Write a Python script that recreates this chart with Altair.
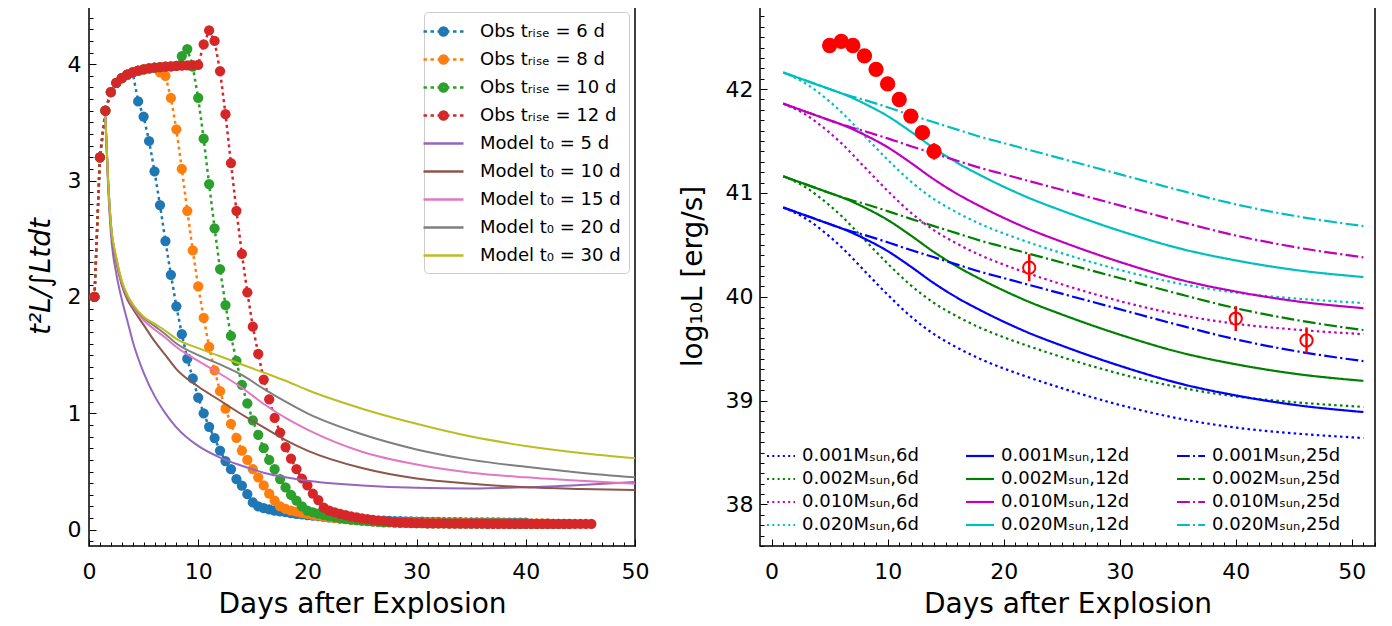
import altair as alt
import numpy as np
import pandas as pd

# ---------------- left panel data ----------------
DAYS = [0.5, 1.0, 1.5, 2.0, 2.5, 3.0, 3.5, 4.0, 4.5, 5.0, 5.5, 6.0, 6.5, 7.0, 7.5, 8.0, 8.5, 9.0, 9.5, 10.0,
        10.5, 11.0, 11.5, 12.0, 12.5, 13.0, 13.5, 14.0, 14.5, 15.0, 15.5, 16.0, 16.5, 17.0, 17.5, 18.0, 18.5, 19.0, 19.5, 20.0,
        20.5, 21.0, 21.5, 22.0, 22.5, 23.0, 23.5, 24.0, 24.5, 25.0, 25.5, 26.0, 26.5, 27.0, 27.5, 28.0, 28.5, 29.0, 29.5, 30.0,
        30.5, 31.0, 31.5, 32.0, 32.5, 33.0, 33.5, 34.0, 34.5, 35.0, 35.5, 36.0, 36.5, 37.0, 37.5, 38.0, 38.5, 39.0, 39.5, 40.0,
        40.5, 41.0, 41.5, 42.0, 42.5, 43.0, 43.5, 44.0, 44.5, 45.0, 45.5, 46.0]

RISE = [2.00, 3.20, 3.60, 3.76, 3.84, 3.88, 3.91, 3.93, 3.945, 3.955,
        3.963, 3.970, 3.975, 3.979, 3.982, 3.985, 3.988, 3.990, 3.992, 3.994]

OBS_T6 = RISE[:8] + [3.68, 3.55, 3.34, 3.08, 2.79, 2.48, 2.19, 1.92, 1.68, 1.47, 1.30, 1.135,
                     1.00, 0.884, 0.787, 0.68, 0.59, 0.52, 0.435, 0.378, 0.306, 0.234, 0.20, 0.185, 0.175, 0.165, 0.157, 0.15, 0.143, 0.137, 0.131, 0.126,
                     0.121, 0.116, 0.111, 0.106, 0.102, 0.098, 0.094, 0.091, 0.088, 0.085, 0.083, 0.081, 0.079, 0.077, 0.076, 0.074, 0.073, 0.072, 0.071, 0.070,
                     0.069, 0.068, 0.068, 0.067, 0.066, 0.066, 0.065, 0.065, 0.064, 0.064, 0.063, 0.063, 0.062, 0.062, 0.062, 0.061, 0.061, 0.061, 0.060, 0.060]
OBS_T8 = RISE[:12] + [3.93, 3.90, 3.71, 3.44, 3.10, 2.74, 2.40, 2.09,
                      1.82, 1.57, 1.37, 1.19, 1.04, 0.91, 0.79, 0.68, 0.60, 0.52, 0.45, 0.38, 0.31, 0.25, 0.20, 0.18, 0.165, 0.155, 0.145, 0.135,
                      0.128, 0.120, 0.113, 0.107, 0.100, 0.095, 0.090, 0.086, 0.082, 0.078, 0.075, 0.073, 0.071, 0.069, 0.067, 0.066, 0.065, 0.064, 0.063, 0.062,
                      0.061, 0.061, 0.060, 0.060, 0.059, 0.059, 0.058, 0.058, 0.058, 0.057, 0.057, 0.057, 0.056, 0.056, 0.056, 0.056, 0.055, 0.055, 0.055, 0.055,
                      0.055, 0.054, 0.054, 0.054]
OBS_T10 = RISE[:16] + [4.07, 4.13, 3.98, 3.71,
                       3.36, 2.97, 2.59, 2.24, 1.93, 1.665, 1.45, 1.245, 1.085, 0.94, 0.815, 0.70, 0.60, 0.52, 0.435, 0.363, 0.30, 0.25, 0.20, 0.165,
                       0.150, 0.138, 0.127, 0.117, 0.108, 0.100, 0.093, 0.087, 0.082, 0.077, 0.073, 0.070, 0.067, 0.064, 0.062, 0.060, 0.059, 0.058, 0.057, 0.056,
                       0.056, 0.055, 0.055, 0.055, 0.054, 0.054, 0.054, 0.053, 0.053, 0.053, 0.053, 0.052, 0.052, 0.052, 0.052, 0.052, 0.051, 0.051, 0.051, 0.051,
                       0.051, 0.051, 0.050, 0.050, 0.050, 0.050, 0.050, 0.050]
OBS_T12 = RISE[:20] + [4.17, 4.29, 4.20, 3.94, 3.57, 3.15, 2.74, 2.37, 2.04, 1.745, 1.51, 1.29, 1.12, 0.96, 0.835, 0.71, 0.61, 0.52, 0.44, 0.38,
                       0.31, 0.255, 0.19, 0.165, 0.150, 0.137, 0.125, 0.115, 0.106, 0.098, 0.090, 0.084, 0.078, 0.073, 0.069, 0.065, 0.062, 0.060, 0.058, 0.057,
                       0.056, 0.055, 0.055, 0.054, 0.054, 0.053, 0.053, 0.053, 0.052, 0.052, 0.052, 0.052, 0.051, 0.051, 0.051, 0.051, 0.051, 0.051, 0.050, 0.050,
                       0.050, 0.050, 0.050, 0.050, 0.050, 0.050, 0.050, 0.050, 0.050, 0.050, 0.050, 0.050]
OBS_SERIES = [OBS_T6, OBS_T8, OBS_T10, OBS_T12]
OBS_COLORS = ["#1f77b4", "#ff7f0e", "#2ca02c", "#d62728"]
OBS_LABELS = ["Obs tᵣᵢₛₑ = 6 d", "Obs tᵣᵢₛₑ = 8 d", "Obs tᵣᵢₛₑ = 10 d", "Obs tᵣᵢₛₑ = 12 d"]

MODEL_T = [1.5, 1.75, 2, 2.5, 3, 3.5, 4, 5, 6, 7, 8, 10, 12, 14, 16, 18, 20, 25, 30, 35, 40, 45, 50]
MODEL_T0_5 = [3.55, 2.95, 2.55, 2.20, 1.98, 1.80, 1.62, 1.35, 1.15, 1.00, 0.88, 0.72, 0.62, 0.55, 0.49, 0.45, 0.42, 0.38, 0.36, 0.355, 0.365, 0.385, 0.41]
MODEL_T0_10 = [3.55, 3.00, 2.62, 2.30, 2.10, 1.98, 1.90, 1.76, 1.62, 1.50, 1.38, 1.23, 1.11, 0.99, 0.88, 0.77, 0.68, 0.53, 0.44, 0.395, 0.365, 0.35, 0.34]
MODEL_T0_15 = [3.55, 3.00, 2.63, 2.32, 2.12, 2.00, 1.92, 1.80, 1.72, 1.65, 1.57, 1.45, 1.34, 1.22, 1.08, 0.96, 0.86, 0.67, 0.56, 0.49, 0.45, 0.42, 0.395]
MODEL_T0_20 = [3.55, 3.00, 2.63, 2.33, 2.13, 2.01, 1.93, 1.82, 1.75, 1.68, 1.60, 1.50, 1.42, 1.33, 1.21, 1.10, 1.00, 0.82, 0.69, 0.60, 0.54, 0.49, 0.45]
MODEL_T0_30 = [3.55, 3.00, 2.64, 2.34, 2.14, 2.02, 1.94, 1.83, 1.77, 1.71, 1.64, 1.56, 1.49, 1.42, 1.35, 1.28, 1.20, 1.04, 0.91, 0.80, 0.72, 0.66, 0.615]
MODEL_SERIES = [MODEL_T0_5, MODEL_T0_10, MODEL_T0_15, MODEL_T0_20, MODEL_T0_30]
MODEL_COLORS = ["#9467bd", "#8c564b", "#e377c2", "#7f7f7f", "#bcbd22"]
MODEL_LABELS = ["Model t₀ = 5 d", "Model t₀ = 10 d", "Model t₀ = 15 d", "Model t₀ = 20 d", "Model t₀ = 30 d"]

# ---------------- right panel data ----------------
RT = [1, 2, 3, 4, 5, 6, 8, 10, 12, 14, 16, 18, 20, 22, 25, 28, 31, 35, 40, 45, 51]
L_0001_6D = [40.86, 40.81, 40.75, 40.67, 40.58, 40.48, 40.25, 40.02, 39.81, 39.64, 39.51, 39.40, 39.31, 39.23, 39.12, 39.02, 38.93, 38.83, 38.74, 38.685, 38.64]
L_0002_6D = [41.16, 41.11, 41.05, 40.97, 40.88, 40.78, 40.55, 40.32, 40.11, 39.94, 39.81, 39.70, 39.61, 39.53, 39.42, 39.32, 39.23, 39.13, 39.04, 38.985, 38.94]
L_0010_6D = [41.86, 41.81, 41.75, 41.67, 41.58, 41.48, 41.25, 41.02, 40.81, 40.64, 40.51, 40.40, 40.31, 40.23, 40.12, 40.02, 39.93, 39.83, 39.74, 39.685, 39.64]
L_0020_6D = [42.16, 42.11, 42.05, 41.97, 41.88, 41.78, 41.55, 41.32, 41.11, 40.94, 40.81, 40.70, 40.61, 40.53, 40.42, 40.32, 40.23, 40.13, 40.04, 39.985, 39.94]
L_0001_12D = [40.86, 40.82, 40.78, 40.74, 40.70, 40.66, 40.56, 40.44, 40.29, 40.13, 39.99, 39.87, 39.76, 39.66, 39.53, 39.41, 39.30, 39.17, 39.05, 38.96, 38.89]
L_0002_12D = [41.16, 41.12, 41.08, 41.04, 41.00, 40.96, 40.86, 40.74, 40.59, 40.43, 40.29, 40.17, 40.06, 39.96, 39.83, 39.71, 39.60, 39.47, 39.35, 39.26, 39.19]
L_0010_12D = [41.86, 41.82, 41.78, 41.74, 41.70, 41.66, 41.56, 41.44, 41.29, 41.13, 40.99, 40.87, 40.76, 40.66, 40.53, 40.41, 40.30, 40.17, 40.05, 39.96, 39.89]
L_0020_12D = [42.16, 42.12, 42.08, 42.04, 42.00, 41.96, 41.86, 41.74, 41.59, 41.43, 41.29, 41.17, 41.06, 40.96, 40.83, 40.71, 40.60, 40.47, 40.35, 40.26, 40.19]
L_0001_25D = [40.86, 40.82, 40.78, 40.74, 40.70, 40.66, 40.595, 40.525, 40.45, 40.38, 40.31, 40.24, 40.18, 40.12, 40.03, 39.94, 39.85, 39.73, 39.59, 39.48, 39.38]
L_0002_25D = [41.16, 41.12, 41.08, 41.04, 41.00, 40.96, 40.895, 40.825, 40.75, 40.68, 40.61, 40.54, 40.48, 40.42, 40.33, 40.24, 40.15, 40.03, 39.89, 39.78, 39.68]
L_0010_25D = [41.86, 41.82, 41.78, 41.74, 41.70, 41.66, 41.595, 41.525, 41.45, 41.38, 41.31, 41.24, 41.18, 41.12, 41.03, 40.94, 40.85, 40.73, 40.59, 40.48, 40.38]
L_0020_25D = [42.16, 42.12, 42.08, 42.04, 42.00, 41.96, 41.895, 41.825, 41.75, 41.68, 41.61, 41.54, 41.48, 41.42, 41.33, 41.24, 41.15, 41.03, 40.89, 40.78, 40.68]

MASSES = ["0.001", "0.002", "0.010", "0.020"]
MASS_COLORS = ["#0000ff", "#008000", "#bf00bf", "#00bfbf"]
DURATIONS = ["6d", "12d", "25d"]
CURVES = {
    ("0.001", "6d"): L_0001_6D, ("0.002", "6d"): L_0002_6D, ("0.010", "6d"): L_0010_6D, ("0.020", "6d"): L_0020_6D,
    ("0.001", "12d"): L_0001_12D, ("0.002", "12d"): L_0002_12D, ("0.010", "12d"): L_0010_12D, ("0.020", "12d"): L_0020_12D,
    ("0.001", "25d"): L_0001_25D, ("0.002", "25d"): L_0002_25D, ("0.010", "25d"): L_0010_25D, ("0.020", "25d"): L_0020_25D,
}

DET_T = [5, 6, 7, 8, 9, 10, 11, 12, 13, 14]
DET_L = [42.42, 42.46, 42.42, 42.32, 42.19, 42.05, 41.90, 41.74, 41.58, 41.40]
DET_ERR = [0.02, 0.02, 0.02, 0.02, 0.03, 0.03, 0.03, 0.04, 0.05, 0.08]
LATE_T = [22.2, 40.0, 46.1]
LATE_L = [40.28, 39.79, 39.58]
LATE_ERR = [0.13, 0.12, 0.125]

# ---------------- styles ----------------
FONT = "DejaVu Sans"
DASH = {"6d": [2.5, 3.3], "12d": [1, 0], "25d": [12.8, 3.3, 2.2, 3.3]}

OBS_SYMBOL = ("M-2,0H-1.65M-1.3,0H-0.95M-0.6,0H-0.3M0.3,0H0.6M0.95,0H1.3M1.65,0H2"
              "M0.4,0A0.4,0.4,0,1,1,-0.4,0A0.4,0.4,0,1,1,0.4,0"
              "M0.16,0A0.16,0.16,0,1,1,-0.16,0A0.16,0.16,0,1,1,0.16,0")
LINE_SYMBOL = "M-2,0H2"
SYM_R = {
    "6d": "M-2,0H-1.71M-1.24,0H-0.95M-0.48,0H-0.2M0.27,0H0.56M1.03,0H1.31M1.78,0H2",
    "12d": "M-2,0H2",
    "25d": "M-2,0H-0.17M0.29,0H0.57M1.03,0H2",
}


def tick_axis(values, test, title, **kw):
    return alt.Axis(values=values, title=title,
                    labelExpr=f"({test}) ? format(datum.value, 'd') : ''",
                    tickSize={"condition": {"test": test, "value": -7}, "value": -4},
                    labelFontSize={"condition": {"test": test, "value": 22}, "value": 0},
                    labelOverlap=False, labelFlush=False, **kw)


TEST10 = "abs(datum.value / 10 - round(datum.value / 10)) < 0.000001"
TEST1 = "abs(datum.value - round(datum.value)) < 0.000001"

# ---------------- left panel ----------------
xL = alt.X("t:Q", scale=alt.Scale(domain=[0, 50], nice=False, zero=False),
           axis=tick_axis(list(range(0, 51)), TEST10, "Days after Explosion", labelPadding=22, titlePadding=8))
yL = alt.Y("v:Q", scale=alt.Scale(domain=[-0.14, 4.5], nice=False, zero=False),
           axis=tick_axis(np.round(np.arange(-1, 46) * 0.1, 1).tolist(), TEST1, "t²L/∫Ltdt",
                          labelPadding=15, titlePadding=12, titleFontStyle="italic"))

left_layers = []
for vals, col in zip(OBS_SERIES, OBS_COLORS):
    df = pd.DataFrame({"t": DAYS[:len(vals)], "v": vals})
    base = alt.Chart(df)
    left_layers.append(base.mark_line(color=col, strokeWidth=2.5, strokeDash=[3, 3.5], clip=True).encode(x=xL, y=yL))
    left_layers.append(base.mark_circle(color=col, size=105, opacity=1, clip=True).encode(x=xL, y=yL))
for vals, col in zip(MODEL_SERIES, MODEL_COLORS):
    df = pd.DataFrame({"t": MODEL_T, "v": vals})
    left_layers.append(alt.Chart(df).mark_line(color=col, strokeWidth=2, interpolate="monotone", clip=True).encode(x=xL, y=yL))

LEFT_LABELS = OBS_LABELS + MODEL_LABELS
LEFT_COLORS = OBS_COLORS + MODEL_COLORS
LEFT_SHAPES = [OBS_SYMBOL] * 4 + [LINE_SYMBOL] * 5
legL = alt.Legend(title=None, orient="top-right", offset=6, padding=8, fillColor="white",
                  strokeColor="#cccccc", cornerRadius=4, labelFontSize=18, labelFont=FONT,
                  labelColor="black", symbolSize=400, symbolStrokeWidth=2.5, labelOffset=25,
                  rowPadding=7, symbolOpacity=1)
leg_left = alt.Chart(pd.DataFrame({"label": LEFT_LABELS})).mark_point(
    filled=False, clip=True, strokeWidth=2.5, opacity=1).encode(
    x=alt.value(-300), y=alt.value(-300),
    color=alt.Color("label:N", scale=alt.Scale(domain=LEFT_LABELS, range=LEFT_COLORS), legend=legL),
    shape=alt.Shape("label:N", scale=alt.Scale(domain=LEFT_LABELS, range=LEFT_SHAPES), legend=legL),
)
left_layers.append(leg_left)
left = alt.layer(*left_layers).properties(width=546, height=540)

# ---------------- right panel ----------------
axis_xR = tick_axis(list(range(0, 53)), TEST10, "Days after Explosion", labelPadding=22, titlePadding=8)
axis_yR = tick_axis(np.round(np.arange(376, 429) * 0.1, 1).tolist(), TEST1, "log₁₀L [erg/s]",
                    labelPadding=14, titlePadding=18)
scale_yR = alt.Scale(domain=[37.6, 42.8], nice=False, zero=False)
xR = alt.X("t:Q", scale=alt.Scale(domain=[-1, 52], nice=False, zero=False), axis=axis_xR)
yR = alt.Y("v:Q", scale=scale_yR, axis=axis_yR)
yR_lo = alt.Y("lo:Q", scale=scale_yR, axis=axis_yR)

right_layers = []
for dur in DURATIONS:
    for mass, col in zip(MASSES, MASS_COLORS):
        df = pd.DataFrame({"t": RT, "v": CURVES[(mass, dur)]})
        right_layers.append(alt.Chart(df).mark_line(color=col, strokeWidth=2.2, strokeDash=DASH[dur],
                                                     interpolate="monotone", clip=True).encode(x=xR, y=yR))

det = pd.DataFrame({"t": DET_T, "v": DET_L, "lo": np.array(DET_L) - np.array(DET_ERR),
                    "hi": np.array(DET_L) + np.array(DET_ERR)})
late = pd.DataFrame({"t": LATE_T, "v": LATE_L, "lo": np.array(LATE_L) - np.array(LATE_ERR),
                     "hi": np.array(LATE_L) + np.array(LATE_ERR)})
right_layers.append(alt.Chart(det).mark_rule(color="red", strokeWidth=2.5).encode(x=xR, y=yR_lo, y2="hi:Q"))
right_layers.append(alt.Chart(det).mark_circle(color="red", size=235, opacity=1).encode(x=xR, y=yR))
right_layers.append(alt.Chart(late).mark_rule(color="red", strokeWidth=2.5).encode(x=xR, y=yR_lo, y2="hi:Q"))
right_layers.append(alt.Chart(late).mark_point(color="red", shape="circle", filled=False, size=150,
                                               strokeWidth=2, opacity=1).encode(x=xR, y=yR))

# legend entries listed column by column (one column per duration)
RIGHT_LABELS, RIGHT_COLORS, RIGHT_SHAPES = [], [], []
for dur in DURATIONS:
    for mass, col in zip(MASSES, MASS_COLORS):
        RIGHT_LABELS.append(f"{mass}Mₛᵤₙ,{dur}")
        RIGHT_COLORS.append(col)
        RIGHT_SHAPES.append(SYM_R[dur])
legR = alt.Legend(title=None, orient="bottom-left", offset=10, padding=2, columns=3, columnPadding=42,
                  labelFontSize=18, labelFont=FONT, labelColor="black", symbolSize=196,
                  symbolStrokeWidth=2.2, labelOffset=12, rowPadding=5, symbolOpacity=1)
leg_right = alt.Chart(pd.DataFrame({"label": RIGHT_LABELS})).mark_point(
    filled=False, clip=True, strokeWidth=2.2, opacity=1).encode(
    x=alt.value(-300), y=alt.value(-300),
    color=alt.Color("label:N", scale=alt.Scale(domain=RIGHT_LABELS, range=RIGHT_COLORS), legend=legR),
    shape=alt.Shape("label:N", scale=alt.Scale(domain=RIGHT_LABELS, range=RIGHT_SHAPES), legend=legR),
)
right_layers.append(leg_right)
right = alt.layer(*right_layers).properties(width=615, height=540)

chart = alt.hconcat(left, right, spacing=28).resolve_scale(
    color="independent", shape="independent"
).properties(
    padding={"left": 18, "top": -4, "right": 0, "bottom": 0}
).configure(font=FONT, background="white").configure_view(
    stroke="black", strokeWidth=1.5
).configure_axis(
    titleFontSize=28, labelFont=FONT, titleFont=FONT, labelColor="black",
    titleColor="black", titleFontWeight="normal", tickColor="black", tickWidth=1,
    domain=False, grid=False
)

chart.save("out.html", embed_options={"renderer": "svg", "actions": False})
